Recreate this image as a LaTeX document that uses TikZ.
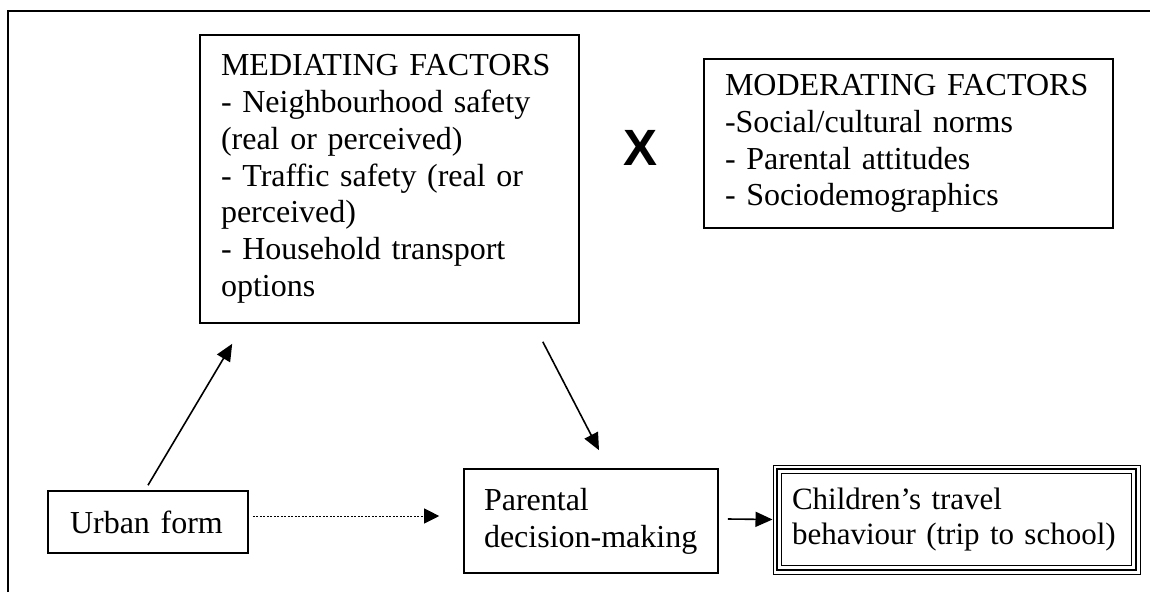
\documentclass[tikz,border=0pt]{standalone}
\usepackage{fontspec}
\setmainfont{Liberation Serif}[WordSpace=0.85]
\setsansfont{Liberation Sans}
\usetikzlibrary{arrows.meta}
\begin{document}
\begin{tikzpicture}[x=1pt,y=-1pt,
  box/.style={draw, line width=1.6pt, rectangle, align=left, inner ysep=0pt,
    font=\fontsize{32}{36.8}\selectfont},
  arr/.style={line width=1.6pt, -{Triangle[length=17pt,width=15pt]}},
  dotarr/.style={line width=0.8pt, dash pattern=on 2pt off 1.5pt, -{Triangle[length=15pt,width=15pt]}},
  frameline/.style={line width=1.5pt}]
\useasboundingbox (0,0) rectangle (1150,592);
\draw[frameline] (8,592) -- (8,11) -- (1150,11);

\node[box, inner xsep=21pt, text width=337pt, minimum height=288pt] (med) at (389.5,179)
  {MEDIATING FACTORS\\- Neighbourhood safety\\(real or perceived)\\- Traffic safety (real or\\perceived)\\- Household transport\\options};

\node[font=\sffamily\bfseries\fontsize{51}{51}\selectfont, inner sep=0pt] (x) at (640,148) {X};

\node[box, inner xsep=21pt, text width=367pt, minimum height=169pt] (mod) at (908.5,143.5)
  {MODERATING FACTORS\\-Social/cultural norms\\- Parental attitudes\\- Sociodemographics};

\node[box, inner xsep=22pt, text width=156pt, minimum height=62pt] (urban) at (148,522)
  {Urban form};

\node[box, inner xsep=20pt, text width=214pt, minimum height=104pt] (par) at (591,521)
  {Parental\\\mbox{decision-making}};

\node[box, font=\fontsize{31}{35.5}\selectfont, line width=1pt, inner xsep=19pt, text width=329pt, minimum height=109pt] (ch) at (956.5,519.5)
  {\mbox{Children’s travel}\\\mbox{behaviour (trip to school)}};
\draw[line width=1.8pt] ([shift={(4.5,4.5)}]ch.north west) rectangle ([shift={(-4.5,-4.5)}]ch.south east);
\draw[line width=1pt] ([shift={(9,9)}]ch.north west) rectangle ([shift={(-9,-9)}]ch.south east);

\draw[arr] ([yshift=5pt]urban.north) -- ([xshift=33pt,yshift=-20pt]med.south west);
\draw[arr] ([xshift=-37pt,yshift=-18pt]med.south east) -- ([xshift=8pt,yshift=18pt]par.north);
\draw[dotarr] ([xshift=4pt,yshift=6pt]urban.east) -- ([xshift=-24pt,yshift=5pt]par.west);
\draw[arr] ([xshift=9pt,yshift=2pt]par.east) -- ([yshift=0pt]ch.west);
\end{tikzpicture}
\end{document}
